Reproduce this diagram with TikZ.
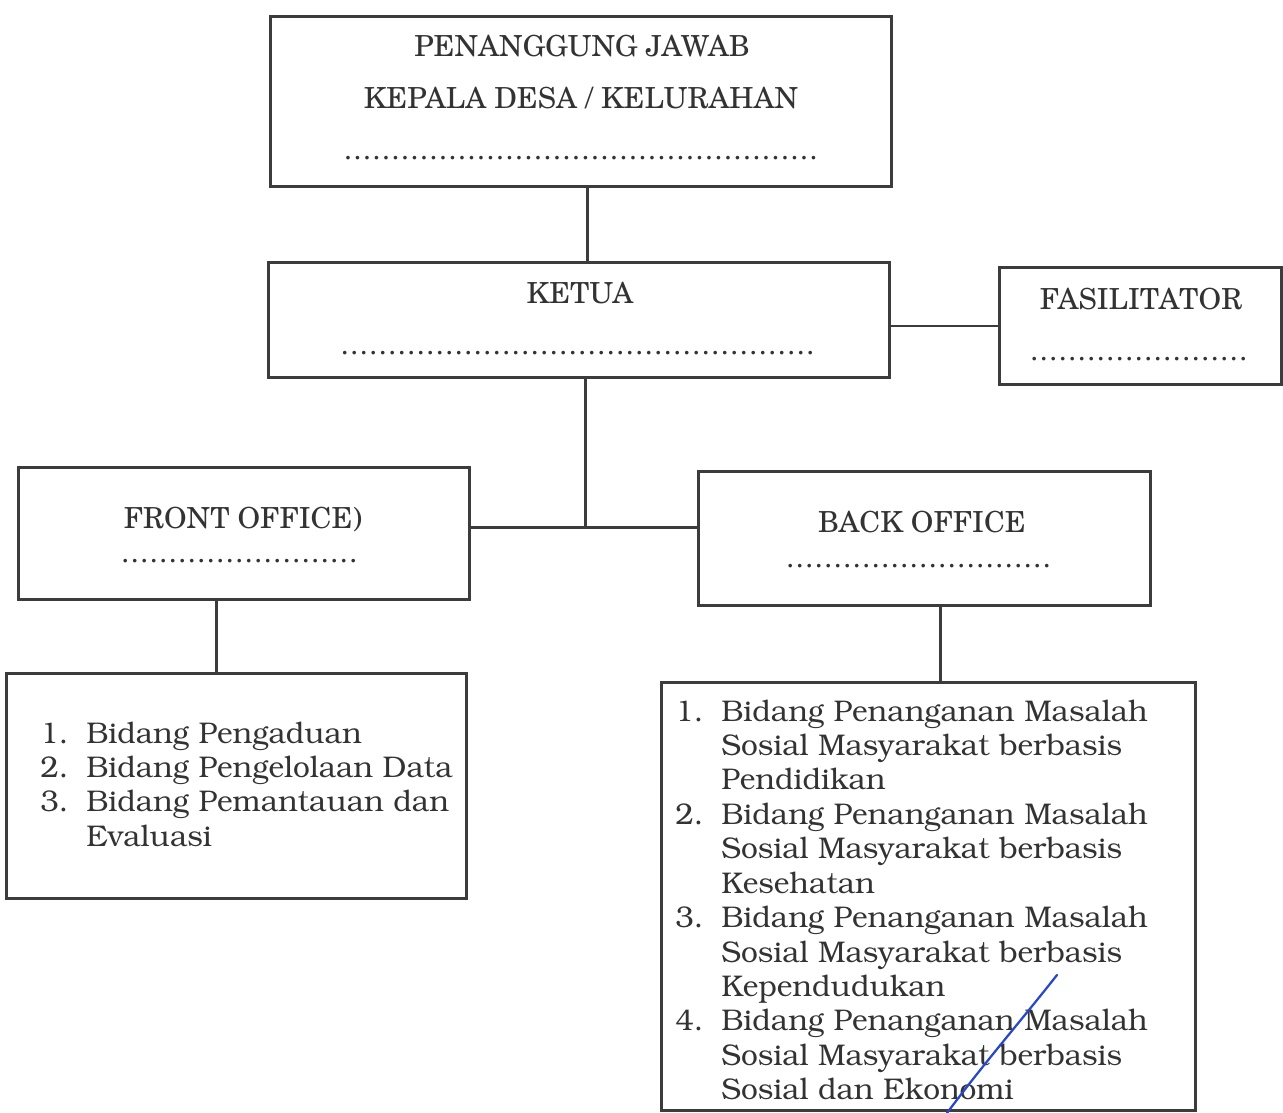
\documentclass[tikz,border=0pt]{standalone}
\usepackage[T1]{fontenc}
\usetikzlibrary{calc}

\definecolor{garis}{HTML}{3C3C3C}
\definecolor{tinta}{HTML}{333333}
\definecolor{pena}{HTML}{2848C8}

\newcommand\judul{\fontfamily{pnc}\fontsize{16.5}{19}\selectfont}
\newcommand\isi{\fontfamily{pbk}\fontsize{17}{19.6}\selectfont}
\newcommand\titik[1]{\hbox to #1{\leaders\hbox to 1.9mm{\hss.\hss}\hfill}}
\newcommand\nomor[1]{\makebox[9.2mm][l]{#1}}

\tikzset{
  kotak/.style={draw=garis, line width=0.6mm, inner sep=0pt},
  tulis/.style={text=tinta, inner sep=0pt, anchor=base},
  hubung/.style={draw=garis, line width=0.6mm}
}

\begin{document}
\begin{tikzpicture}[x=0.2mm, y=-0.2mm]
        \useasboundingbox (0,0) rectangle (1283,1113);

        % kotak-kotak
        \node[kotak, minimum width=124mm, minimum height=34mm] (pj) at (581,102) {};
        \node[kotak, minimum width=124mm, minimum height=22.8mm] (ketua) at (579,320) {};
        \node[kotak, minimum width=56.4mm, minimum height=23.2mm] (fasil) at (1140,326) {};
        \node[kotak, minimum width=90mm, minimum height=26.4mm] (front) at (244,533) {};
        \node[kotak, minimum width=90.4mm, minimum height=26.8mm] (back) at (924,538) {};
        \node[kotak, minimum width=91.8mm, minimum height=45mm] (frontlist) at (236.5,785.5) {};
        \node[kotak, minimum width=106.8mm, minimum height=85.6mm] (backlist) at (928,896) {};

        % judul
        \node[tulis] (pj1) at (582,57) {\judul PENANGGUNG JAWAB};
        \node[tulis] (pj2) at (581,109) {\judul KEPALA DESA / KELURAHAN};
        \node[tulis] (pj3) at (581,160) {\judul\titik{95mm}};

        \node[tulis] (ketua1) at (580,304) {\judul KETUA};
        \node[tulis] (ketua2) at (579,355) {\judul\titik{95.5mm}};

        \node[tulis] (fasil1) at (1141,309) {\judul FASILITATOR};
        \node[tulis] (fasil2) at (1141,360) {\judul\titik{44.5mm}};

        \node[tulis] (front1) at (243,528) {\judul FRONT OFFICE)};
        \node[tulis] (front2) at (242,562) {\judul\titik{48.5mm}};

        \node[tulis] (back1) at (922,532) {\judul BACK OFFICE};
        \node[tulis] (back2) at (922,567) {\judul\titik{54.5mm}};

        % daftar bidang
        \node[tulis, anchor=base west] (frontisi) at (40,743) {\isi
          \begin{tabular}[t]{@{}l@{}l@{}}
            \nomor{1.} & Bidang Pengaduan\\
            \nomor{2.} & Bidang Pengelolaan Data\\
            \nomor{3.} & Bidang Pemantauan dan\\
                       & Evaluasi
          \end{tabular}};

        \node[tulis, anchor=base west] (backisi) at (675,721) {\isi
          \begin{tabular}[t]{@{}l@{}l@{}}
            \nomor{1.} & Bidang Penanganan Masalah\\
                       & Sosial Masyarakat berbasis\\
                       & Pendidikan\\
            \nomor{2.} & Bidang Penanganan Masalah\\
                       & Sosial Masyarakat berbasis\\
                       & Kesehatan\\
            \nomor{3.} & Bidang Penanganan Masalah\\
                       & Sosial Masyarakat berbasis\\
                       & Kependudukan\\
            \nomor{4.} & Bidang Penanganan Masalah\\
                       & Sosial Masyarakat berbasis\\
                       & Sosial dan Ekonomi
          \end{tabular}};

        % garis penghubung
        \coordinate (a1) at (587,0);
        \coordinate (simpul) at (585,527);
        \coordinate (a2) at (216,0);
        \coordinate (a3) at (940,0);

        \draw[hubung] (pj.south -| a1) -- (ketua.north -| a1);
        \draw[hubung, line width=0.3mm] (ketua.east |- fasil.west) -- (fasil.west);
        \draw[hubung] (ketua.south -| simpul) -- (simpul);
        \draw[hubung] (front.east |- simpul) -- (back.west |- simpul);
        \draw[hubung] (front.south -| a2) -- (frontlist.north -| a2);
        \draw[hubung] (back.south -| a3) -- (backlist.north -| a3);

        % coretan pena
        \draw[pena, line width=0.45mm, line cap=round] (1057,975) .. controls (1020,1022) and (985,1062) .. (947,1113);

\end{tikzpicture}
\end{document}
